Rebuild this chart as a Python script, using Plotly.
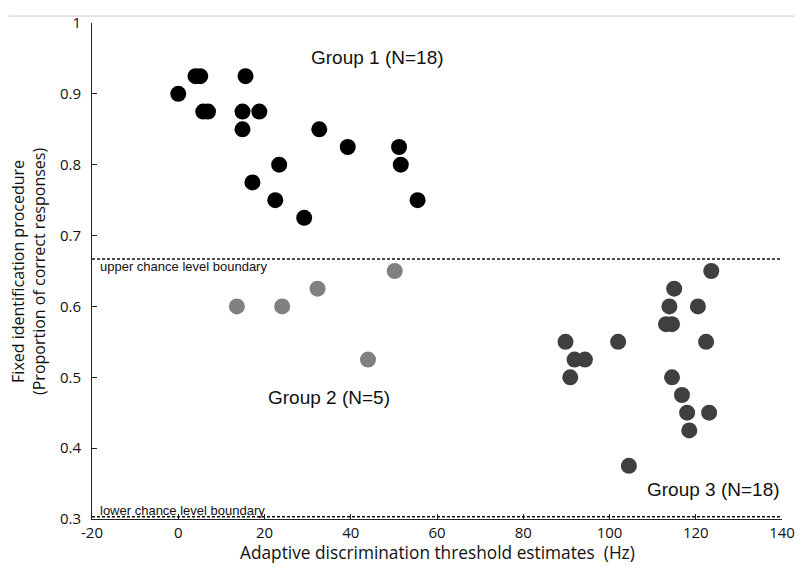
import plotly.graph_objects as go

# Group 1: high identification scores
g1_thresh = [0.0, 4.0, 5.1, 5.8, 6.9, 15.6, 14.9, 14.9, 18.8, 17.2, 23.4, 22.5,
             29.2, 32.7, 39.3, 51.2, 51.6, 55.5]
g1_prop = [0.9, 0.925, 0.925, 0.875, 0.875, 0.925, 0.875, 0.85, 0.875, 0.775, 0.8, 0.75,
           0.725, 0.85, 0.825, 0.825, 0.8, 0.75]

# Group 2: low thresholds, chance-level identification
g2_thresh = [13.6, 24.1, 32.3, 50.2, 44.0]
g2_prop = [0.6, 0.6, 0.625, 0.65, 0.525]

# Group 3: high thresholds, chance-level identification
g3_thresh = [123.6, 115.0, 113.9, 120.5, 113.1, 114.5, 89.8, 102.0, 122.4, 91.9, 94.3,
             90.9, 114.5, 116.8, 118.0, 123.1, 118.5, 104.5]
g3_prop = [0.65, 0.625, 0.6, 0.6, 0.575, 0.575, 0.55, 0.55, 0.55, 0.525, 0.525,
           0.5, 0.5, 0.475, 0.45, 0.45, 0.425, 0.375]

upper_bound = 0.667
lower_bound = 0.303

x_ticks = [-20, 0, 20, 40, 60, 80, 100, 120, 140]
y_ticks = [0.3, 0.4, 0.5, 0.6, 0.7, 0.8, 0.9, 1.0]
y_ticklabels = ["0.3", "0.4", "0.5", "0.6", "0.7", "0.8", "0.9", "1"]

fig = go.Figure()

for xs, ys, col in [(g1_thresh, g1_prop, "#000000"),
                    (g2_thresh, g2_prop, "#808080"),
                    (g3_thresh, g3_prop, "#3f3f3f")]:
    fig.add_trace(go.Scatter(x=xs, y=ys, mode="markers",
                             marker=dict(size=16, color=col, line=dict(width=0)),
                             showlegend=False, cliponaxis=False))

# chance level boundaries
for yb in [upper_bound, lower_bound]:
    fig.add_shape(type="line", xref="x", yref="y", x0=-20, x1=140, y0=yb, y1=yb,
                  line=dict(color="#111111", width=1.5, dash="3px,2px"))

# thin rule across the top of the page
fig.add_shape(type="line", xref="paper", yref="paper", x0=-0.1213, x1=1.018,
              y0=1.0139, y1=1.0139, line=dict(color="#d4d4d4", width=1.2))

label_font = dict(family="Liberation Sans, Arial", size=19, color="#111111")
small_font = dict(family="Liberation Sans, Arial", size=13, color="#111111")

fig.add_annotation(x=46.3, y=0.952, text="Group 1 (N=18)", showarrow=False, font=label_font)
fig.add_annotation(x=35.0, y=0.472, text="Group 2 (N=5)", showarrow=False, font=label_font)
fig.add_annotation(x=124.0, y=0.341, text="Group 3 (N=18)", showarrow=False, font=label_font)
fig.add_annotation(x=-18.7, y=0.656, text="upper chance level boundary", showarrow=False,
                   xanchor="left", font=small_font)
fig.add_annotation(x=-18.7, y=0.3125, text="lower chance level boundary", showarrow=False,
                   xanchor="left", font=small_font)

# axis titles
fig.add_annotation(xref="paper", yref="paper", x=(28 - 92) / 701, y=(519 - 268) / 504,
                   xanchor="center", yanchor="middle",
                   text="Fixed identification procedure<br>(Proportion of correct responses)",
                   textangle=-90, showarrow=False,
                   font=dict(family="Open Sans", size=16, color="#111111"))
fig.add_annotation(xref="paper", yref="paper", x=0.5, y=(519 - 553) / 504,
                   xanchor="center", yanchor="middle",
                   text="Adaptive discrimination threshold estimates\u00a0 (Hz)",
                   showarrow=False,
                   font=dict(family="Open Sans", size=17.3, color="#111111"))

axis_common = dict(showgrid=False, zeroline=False, showline=True, linecolor="#222222",
                   linewidth=1, ticks="inside", ticklen=5, tickwidth=1, tickcolor="#222222",
                   tickfont=dict(family="Open Sans", size=15, color="#111111"))

fig.update_xaxes(range=[-20, 140], tickvals=x_ticks, ticktext=[str(v) for v in x_ticks],
                 **axis_common)
fig.update_yaxes(range=[0.3, 1.0], tickvals=y_ticks, ticktext=y_ticklabels,
                 ticklabelstandoff=7, **axis_common)

fig.update_layout(width=807, height=569, margin=dict(l=92, r=14, t=15, b=50),
                  plot_bgcolor="white", paper_bgcolor="white")

fig.write_html("out.html")
